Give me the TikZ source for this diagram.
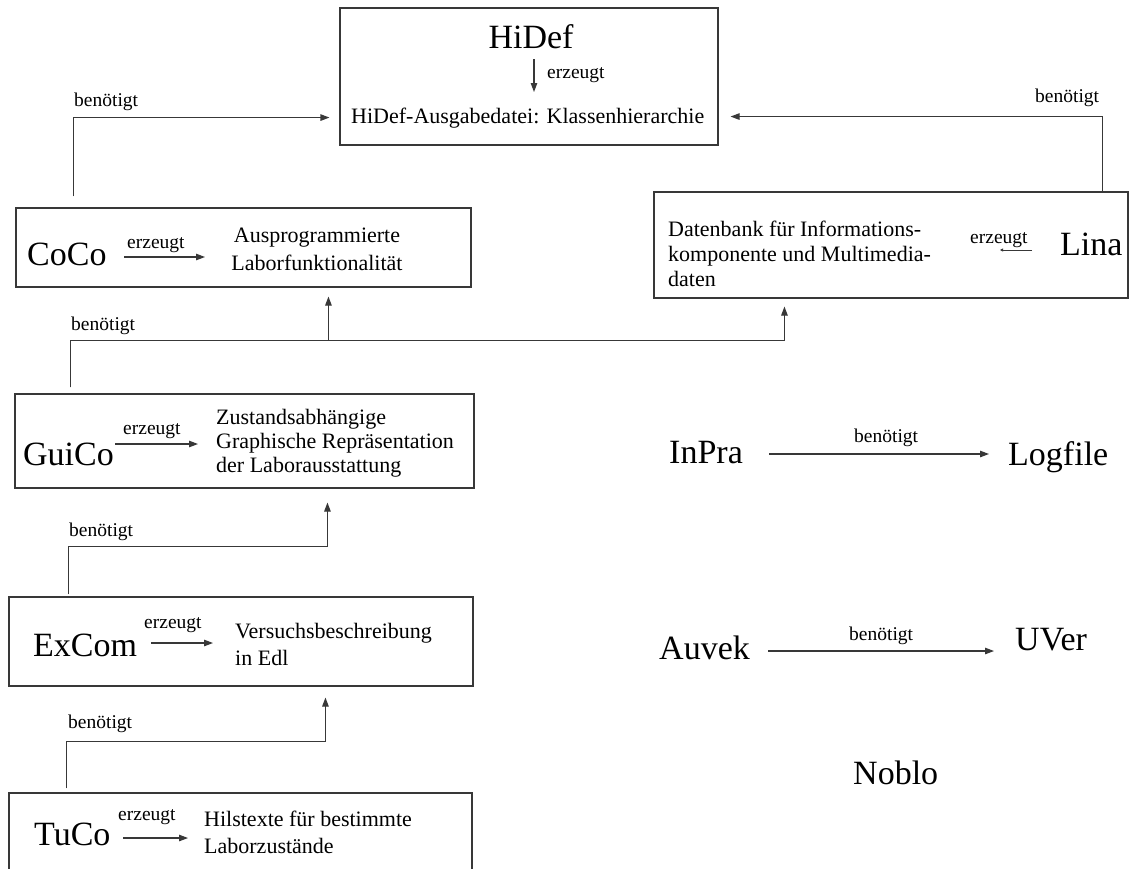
\documentclass[tikz,border=0pt]{standalone}
\usepackage{fontspec}
\setmainfont{Liberation Serif}
\usetikzlibrary{calc,arrows.meta}
\begin{document}
\begin{tikzpicture}[x=1pt,y=-1pt,
  ln/.style={draw=black!78, line width=1.1pt},
  box/.style={ln, rectangle, inner sep=0pt},
  big/.style={inner sep=0pt, font=\fontsize{34}{40}\selectfont},
  mid/.style={inner sep=0pt, font=\fontsize{22}{#1}\selectfont, align=left},
  midc/.style={inner sep=0pt, font=\fontsize{22}{#1}\selectfont, align=center},
  lab/.style={inner sep=0pt, font=\fontsize{19.5}{23}\selectfont},
  arr/.style={ln, -{Triangle[length=9pt,width=6.5pt]}},
  tiny/.style={ln, line width=0.8pt, -{Triangle[length=3pt,width=3pt]}}
]
\clip (0,0) rectangle (1129,868);
\fill[white] (0,0) rectangle (1129,868);

% boxes
\node[box, minimum width=378pt, minimum height=137pt] (hidef) at (529,76.5) {};
\node[box, minimum width=455pt, minimum height=79pt]  (coco)  at (243.5,247.5) {};
\node[box, minimum width=474pt, minimum height=106pt] (lina)  at (891,245) {};
\node[box, minimum width=459pt, minimum height=94pt]  (guico) at (244.5,441) {};
\node[box, minimum width=464pt, minimum height=89pt]  (excom) at (241,641.5) {};
\node[box, minimum width=463pt, minimum height=90pt]  (tuco)  at (240.5,838) {};

% HiDef box contents
\node[big, anchor=base] (hidefN) at (531,48) {HiDef};
\node[lab, anchor=base west] (hidefE) at (547,78) {erzeugt};
\node[mid=26, anchor=base west] (hidefT) at (351,123) {HiDef-Ausgabedatei: Klassenhierarchie};
\draw[arr] ($(hidefN.base)+(3,11)$) -- ($(hidefN.base)+(3,44)$);

% CoCo
\node[big, anchor=base west] (cocoN) at (27,265) {CoCo};
\node[lab, anchor=base west] (cocoE) at (127,248) {erzeugt};
\node[midc=28, anchor=base] (cocoT) at (317,270) {Ausprogrammierte\\ Laborfunktionalität};
\draw[arr] ($(cocoN.base west)+(97,-8)$) -- ($(cocoN.base west)+(178,-8)$);

% Lina
\node[mid=25, anchor=base west] (linaT) at (668,286) {Datenbank für Informations-\\komponente und Multimedia-\\daten};
\node[lab, anchor=base west] (linaE) at (970,243) {erzeugt};
\node[big, anchor=base west] (linaN) at (1060,255) {Lina};
\draw[tiny] ($(linaN.base west)+(-28,-5)$) -- ($(linaN.base west)+(-60,-5)$);

% GuiCo
\node[big, anchor=base west] (guicoN) at (23,465) {GuiCo};
\node[lab, anchor=base west] (guicoE) at (123,434) {erzeugt};
\node[mid=24, anchor=base west] (guicoT) at (216,472) {Zustandsabhängige\\Graphische Repräsentation\\der Laborausstattung};
\draw[arr] ($(guicoN.base west)+(92,-21)$) -- ($(guicoN.base west)+(175,-21)$);

% ExCom
\node[big, anchor=base west] (excomN) at (33,656) {ExCom};
\node[lab, anchor=base west] (excomE) at (144,628) {erzeugt};
\node[mid=27, anchor=base west] (excomT) at (235,665) {Versuchsbeschreibung\\in Edl};
\draw[arr] ($(excomN.base west)+(118,-13)$) -- ($(excomN.base west)+(180,-13)$);

% TuCo
\node[big, anchor=base west] (tucoN) at (34,845) {TuCo};
\node[lab, anchor=base west] (tucoE) at (118,820) {erzeugt};
\node[mid=27, anchor=base west] (tucoT) at (204,853) {Hilstexte für bestimmte\\Laborzustände};
\draw[arr] ($(tucoN.base west)+(89,-7)$) -- ($(tucoN.base west)+(154,-7)$);

% right column
\node[big, anchor=base west] (inpra) at (669,463) {InPra};
\node[big, anchor=base west] (logfile) at (1008,465) {Logfile};
\node[lab, anchor=base west] (inpraL) at (854,442) {benötigt};
\draw[arr] ($(inpra.base west)+(100,-9)$) -- ($(logfile.base west)+(-19,-11)$);

\node[big, anchor=base west] (auvek) at (659,659) {Auvek};
\node[big, anchor=base west] (uver) at (1015,650) {UVer};
\node[lab, anchor=base west] (auvekL) at (849,640) {benötigt};
\draw[arr] ($(auvek.base west)+(109,-8)$) -- ($(uver.base west)+(-21,1)$);

\node[big, anchor=base west] (noblo) at (853,784) {Noblo};

% benötigt connectors
\node[lab, anchor=base west] (l1) at (74,106) {benötigt};
\draw[arr] ($(coco.north west)+(58,-11)$) |- ($(hidef.south west)+(-10,-28)$);

\node[lab, anchor=base west] (l2) at (1035,102) {benötigt};
\draw[arr] ($(lina.north west)+(449,0)$) |- ($(hidef.south east)+(12,-29)$);

\node[lab, anchor=base west] (l3) at (71,330) {benötigt};
\draw[arr] ($(guico.north west)+(56,-6)$) -- ++(0,-47) -| ($(coco.south west)+(313,9)$);
\draw[arr] ($(guico.north west)+(56,-6)$) -- ++(0,-47) -| ($(lina.south west)+(131,8)$);

\node[lab, anchor=base west] (l4) at (69,536) {benötigt};
\draw[arr] ($(excom.north west)+(60,-2)$) -- ++(0,-48) -| ($(guico.south west)+(313,14)$);

\node[lab, anchor=base west] (l5) at (68,728) {benötigt};
\draw[arr] ($(tuco.north west)+(58,-4)$) -- ++(0,-47) -| ($(excom.south west)+(317,11)$);
\end{tikzpicture}
\end{document}
